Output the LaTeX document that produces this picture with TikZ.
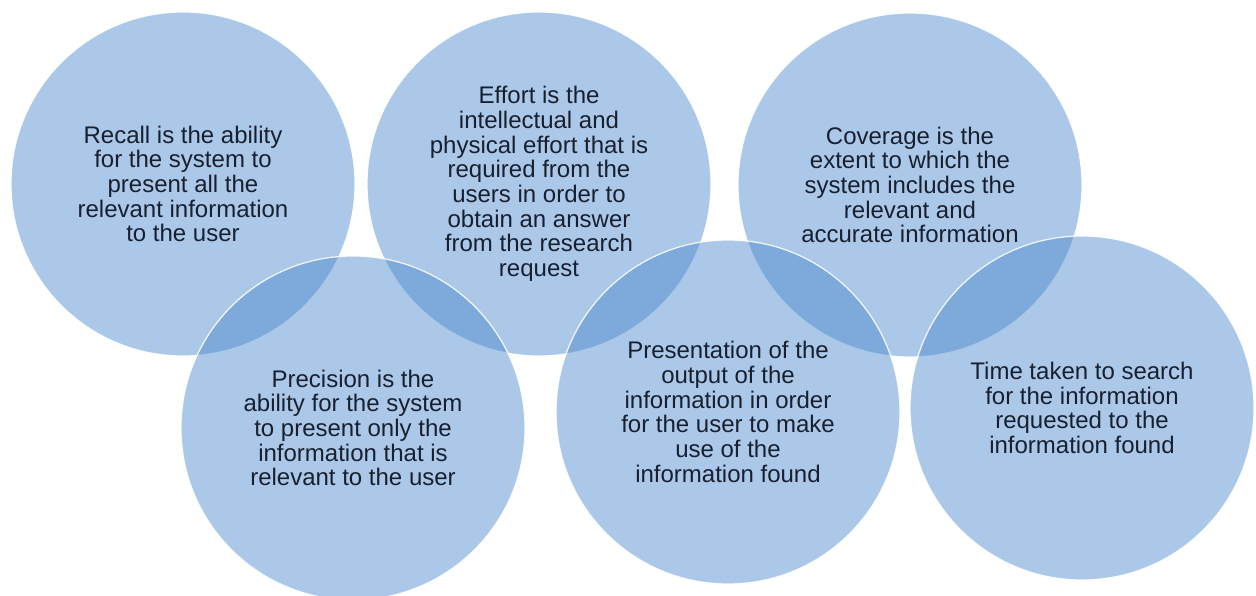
\documentclass[tikz,border=0pt]{standalone}
\usepackage{fontspec}
\setmainfont{Liberation Sans}
\definecolor{circfill}{RGB}{70,135,205}
\definecolor{txt}{RGB}{24,32,48}
\tikzset{
  circ/.style={circle, minimum size=344pt, inner sep=0pt, fill=circfill, fill opacity=0.45,
    draw=white, draw opacity=0.9, line width=1.2pt, text opacity=1, text=txt,
    align=center, font=\fontsize{24}{24.7}\selectfont}
}
\begin{document}
\begin{tikzpicture}[x=1pt,y=-1pt]
\useasboundingbox[fill=white] (0,0) rectangle (1256,596);
\node[circ] (recall) at (183,184) {Recall is the ability\\for the system to\\present all the\\relevant information\\to the user};
\node[circ] (effort) at (539,184) {Effort is the\\intellectual and\\physical effort that is\\required from the\\users in order to\\obtain an answer\\from the research\\request};
\node[circ] (coverage) at (910,185) {Coverage is the\\extent to which the\\system includes the\\relevant and\\accurate information};
\node[circ] (precision) at (353,428) {Precision is the\\ability for the system\\to present only the\\information that is\\relevant to the user};
\node[circ] (presentation) at (728,412) {Presentation of the\\output of the\\information in order\\for the user to make\\use of the\\information found};
\node[circ] (time) at (1082,408) {Time taken to search\\for the information\\requested to the\\information found};
\end{tikzpicture}
\end{document}
